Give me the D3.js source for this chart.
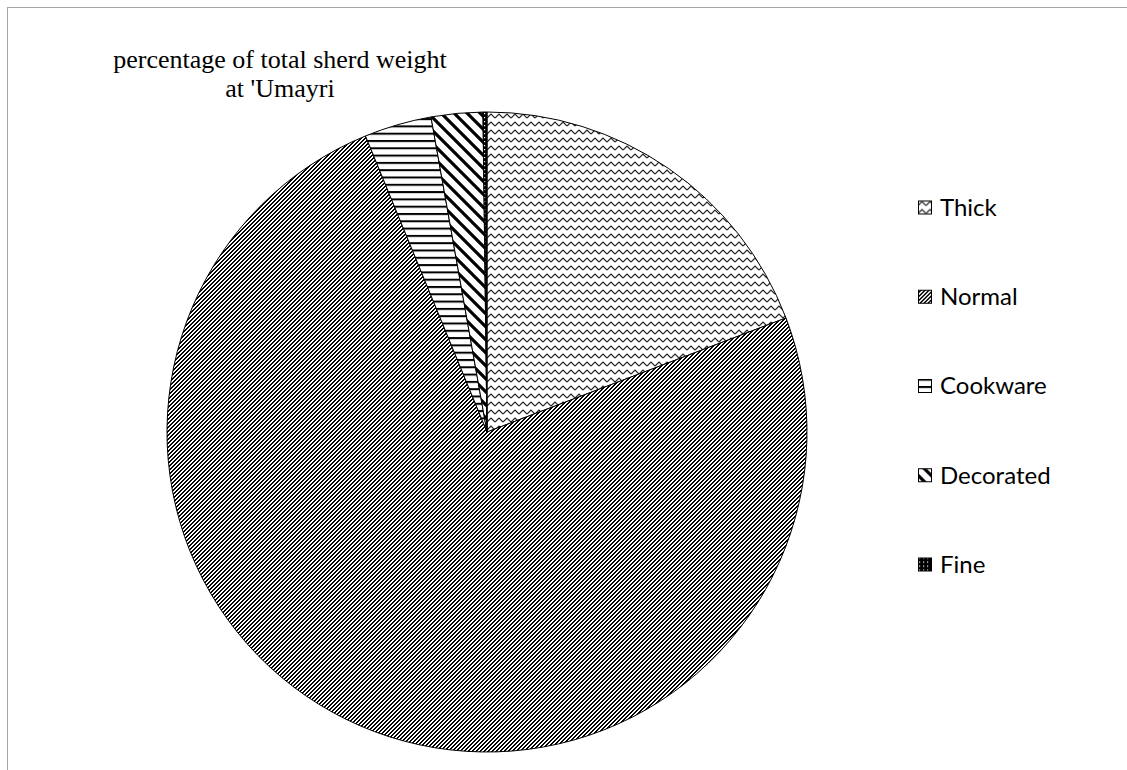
<!DOCTYPE html>
<html>
<head>
<meta charset="utf-8">
<script src="https://cdn.jsdelivr.net/npm/d3@7"></script>
<style>
  html, body { margin: 0; padding: 0; background: #fff; }
  svg { display: block; }
</style>
</head>
<body>
<svg id="chart" width="1127" height="770"></svg>
<script>
// Sherd weight shares (%) by ware class
const categories = ["Thick", "Normal", "Cookware", "Decorated", "Fine"];
const shares = [19.2, 74.6, 3.4, 2.6, 0.2];
const titleLines = ["percentage of total sherd weight", "at 'Umayri"];

const svg = d3.select("#chart");
const defs = svg.append("defs");

// Fill patterns for each ware class
function pattern(id, w, h, draw) {
  const p = defs.append("pattern")
    .attr("id", id)
    .attr("patternUnits", "userSpaceOnUse")
    .attr("width", w).attr("height", h);
  p.append("rect").attr("width", w).attr("height", h).attr("fill", "#fff");
  draw(p);
}

// zigzag
pattern("pat-thick", 8, 8, p => {
  p.append("path").attr("d", "M0,6 L4,2 L8,6")
    .attr("fill", "none").attr("stroke", "#222").attr("stroke-width", 1.2);
});
// dark upward diagonal
pattern("pat-normal", 4, 4, p => {
  for (let y = 0; y < 4; y++) {
    [(3 - y + 4) % 4, (4 - y) % 4].forEach(x => {
      p.append("rect").attr("x", x).attr("y", y).attr("width", 1).attr("height", 1)
        .attr("fill", "#000").attr("shape-rendering", "crispEdges");
    });
  }
});
// wide horizontal lines
pattern("pat-cook", 8, 7.3, p => {
  p.append("rect").attr("x", 0).attr("y", 0).attr("width", 8).attr("height", 2)
    .attr("fill", "#000");
});
// wide downward diagonal
pattern("pat-deco", 13, 13, p => {
  p.append("path").attr("d", "M-13,0 L13,26 M0,0 L13,13 M0,-13 L26,13 M-13,-13 L13,13")
    .attr("stroke", "#000").attr("stroke-width", 3.2).attr("fill", "none");
});
// dotted dark fill
pattern("pat-fine", 4, 4, p => {
  p.select("rect").attr("fill", "#000");
  p.append("rect").attr("x", 1).attr("y", 1).attr("width", 1.2).attr("height", 1.2).attr("fill", "#fff");
});

const fills = d3.scaleOrdinal()
  .domain(categories)
  .range(["url(#pat-thick)", "url(#pat-normal)", "url(#pat-cook)", "url(#pat-deco)", "url(#pat-fine)"]);

// chart area frame
svg.append("rect")
  .attr("x", 7.5).attr("y", 7.5)
  .attr("width", 1300).attr("height", 900)
  .attr("fill", "none").attr("stroke", "#a6a6a6").attr("stroke-width", 1);

// title
const title = svg.append("text")
  .attr("font-family", "'Liberation Serif', 'Times New Roman', serif")
  .attr("font-size", 26)
  .attr("fill", "#000")
  .attr("text-anchor", "middle");
title.selectAll("tspan").data(titleLines).join("tspan")
  .attr("x", 280)
  .attr("y", (d, i) => 68 + i * 29)
  .text(d => d);

// pie
const cx = 487, cy = 432, radius = 320;
const pie = d3.pie().sort(null).value(d => d.value)
  .startAngle(0).endAngle(2 * Math.PI);
const arc = d3.arc().innerRadius(0).outerRadius(radius);

const data = categories.map((c, i) => ({ name: c, value: shares[i] }));

svg.append("g")
  .attr("transform", `translate(${cx},${cy})`)
  .selectAll("path")
  .data(pie(data))
  .join("path")
  .attr("d", arc)
  .attr("fill", d => fills(d.data.name))
  .attr("stroke", "#000")
  .attr("stroke-width", 1)
  .attr("stroke-linejoin", "round");

// legend
const legendY = d3.scalePoint().domain(categories).range([207.5, 564.5]);
const legend = svg.append("g");
const item = legend.selectAll("g").data(categories).join("g")
  .attr("transform", d => `translate(918,${legendY(d)})`);
item.append("rect")
  .attr("x", 0.5).attr("y", -6.5)
  .attr("width", 13).attr("height", 13)
  .attr("fill", d => fills(d))
  .attr("stroke", "#000").attr("stroke-width", 1);
item.append("text")
  .attr("x", 22).attr("y", 0)
  .attr("dy", "0.35em")
  .attr("font-family", "Lato, 'Open Sans', sans-serif")
  .attr("font-size", 24)
  .attr("fill", "#000")
  .text(d => d);
</script>
</body>
</html>
